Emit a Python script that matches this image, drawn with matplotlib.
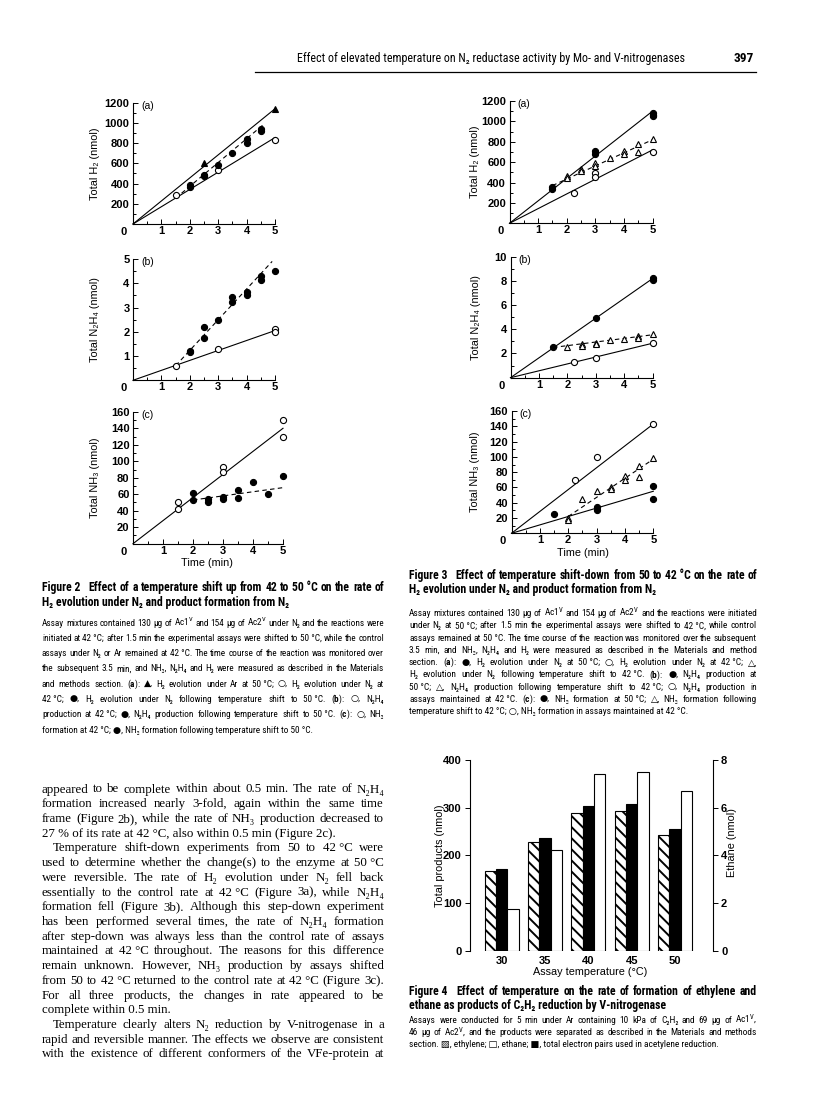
import matplotlib
matplotlib.use('Agg')
import matplotlib.pyplot as plt
from matplotlib import font_manager
from matplotlib.lines import Line2D
import numpy as np

W, H = 816, 1099

# ---------------- data ----------------
# Figure 2 (a): H2
f2a_ar_x = [2.5, 5]
f2a_ar_y = [600, 1140]
f2a_42_x = [1.5, 3, 5]
f2a_42_y = [290, 530, 830]
f2a_shift_x = [2, 2, 2.5, 2.5, 3, 3.5, 4, 4, 4.5, 4.5]
f2a_shift_y = [390, 370, 480, 470, 580, 700, 840, 800, 940, 920]
f2a_fit_ar = ([0, 5], [0, 1140])
f2a_fit_42 = ([0, 5], [0, 855])
f2a_fit_shift = ([1.5, 4.6], [255, 985])

# Figure 2 (b): N2H4
f2b_42_x = [1.5, 3, 5, 5]
f2b_42_y = [0.6, 1.3, 2.1, 1.98]
f2b_shift_x = [2, 2, 2.5, 2.5, 3, 3.5, 3.5, 4, 4, 4.5, 4.5, 5]
f2b_shift_y = [1.2, 1.15, 2.2, 1.75, 2.5, 3.42, 3.22, 3.62, 3.5, 4.28, 4.12, 4.5]
f2b_fit_42 = ([0, 5], [0, 2.05])
f2b_fit_shift = ([1.5, 4.9], [0.6, 4.9])

# Figure 2 (c): NH3
f2c_42_x = [1.5, 1.5, 3, 3, 5, 5]
f2c_42_y = [50, 42, 93, 87, 150, 130]
f2c_shift_x = [2, 2, 2.5, 2.5, 3, 3, 3.5, 3.5, 4, 4.5, 5]
f2c_shift_y = [62, 53, 54, 51, 57, 54, 65, 55, 75, 60, 82]
f2c_fit_42 = ([0, 5], [0, 140])
f2c_fit_shift = ([2, 5], [53, 68])

# Figure 3 (a): H2
f3a_50_x = [1.5, 1.5, 3, 3, 5, 5, 5]
f3a_50_y = [360, 340, 710, 680, 1080, 1060, 1050]
f3a_42_x = [2.25, 3, 3, 5]
f3a_42_y = [300, 490, 450, 700]
f3a_shift_x = [2, 2, 2.5, 2.5, 3, 3, 3.5, 4, 4, 4.5, 4.5, 5]
f3a_shift_y = [465, 440, 530, 510, 590, 560, 640, 710, 680, 780, 700, 830]
f3a_fit_50 = ([0, 5], [0, 1100])
f3a_fit_42 = ([0, 5], [0, 720])
f3a_fit_shift = ([1.5, 5], [370, 820])

# Figure 3 (b): N2H4
f3b_50_x = [1.5, 3, 5, 5]
f3b_50_y = [2.5, 4.9, 8.25, 8.05]
f3b_42_x = [2.25, 3, 5]
f3b_42_y = [1.3, 1.65, 2.85]
f3b_shift_x = [2, 2.5, 2.5, 3, 3, 3.5, 4, 4.5, 4.5, 5]
f3b_shift_y = [2.55, 2.75, 2.6, 2.9, 2.75, 3.1, 3.2, 3.45, 3.3, 3.6]
f3b_fit_50 = ([0, 5], [0, 8.2])
f3b_fit_42 = ([0, 5], [0, 2.85])
f3b_fit_shift = ([1.5, 5], [2.5, 3.55])

# Figure 3 (c): NH3
f3c_42_x = [2.25, 3, 5]
f3c_42_y = [70, 100, 143]
f3c_shift_x = [2, 2, 2.5, 3, 3.5, 3.5, 4, 4, 4.5, 4.5, 5]
f3c_shift_y = [20, 17, 45, 55, 60, 58, 75, 70, 88, 74, 98]
f3c_50_x = [1.5, 3, 3, 5, 5]
f3c_50_y = [25, 34, 31, 62, 45]
f3c_fit_42 = ([0, 5], [0, 143])
f3c_fit_50 = ([0, 5], [0, 55])
f3c_fit_shift = ([2, 5], [22, 97])

# Figure 4
temps = ['30', '35', '40', '45', '50']
ethylene = [167, 227, 289, 293, 242]
electron_pairs = [171, 236, 304, 307, 256]
ethane = [1.75, 4.22, 7.41, 7.48, 6.71]

# ---------------- page text ----------------
header = "Effect of elevated temperature on N₂ reductase activity by Mo- and V-nitrogenases"
page_no = "397"

A, B, C = r"($\mathbf{a}$):", r"($\mathbf{b}$):", r"($\mathbf{c}$):"
SUPV = r"$^{\mathrm{V}}$"

cap2_title = ["Figure\u00a02\u00a0\u00a0 Effect of a temperature shift up from 42 to 50\u00a0°C on the rate of",
              "H₂ evolution under N₂ and product formation from N₂"]
cap2 = [
    f"Assay mixtures contained 130 μg of Ac1{SUPV} and 154 μg of Ac2{SUPV} under N₂ and the reactions were",
    "initiated at 42\u00a0°C; after 1.5 min the experimental assays were shifted to 50\u00a0°C, while the control",
    "assays under N₂ or Ar remained at 42\u00a0°C. The time course of the reaction was monitored over",
    "the subsequent 3.5 min, and NH₃, N₂H₄ and H₂ were measured as described in the Materials",
    f"and methods section. {A} ▲, H₂ evolution under Ar at 50\u00a0°C; ○, H₂ evolution under N₂ at",
    f"42\u00a0°C; ●, H₂ evolution under N₂ following temperature shift to 50\u00a0°C. {B} ○, N₂H₄",
    f"production at 42\u00a0°C; ●, N₂H₄ production following temperature shift to 50\u00a0°C. {C} ○, NH₃",
    "formation at 42\u00a0°C; ●, NH₃ formation following temperature shift to 50\u00a0°C.",
]

cap3_title = ["Figure\u00a03\u00a0\u00a0 Effect of temperature shift-down from 50 to 42\u00a0°C on the rate of",
              "H₂ evolution under N₂ and product formation from N₂"]
cap3 = [
    f"Assay mixtures contained 130 μg of Ac1{SUPV} and 154 μg of Ac2{SUPV} and the reactions were initiated",
    "under N₂ at 50\u00a0°C; after 1.5 min the experimental assays were shifted to 42\u00a0°C, while control",
    "assays remained at 50\u00a0°C. The time course of the reaction was monitored over the subsequent",
    "3.5 min, and NH₃, N₂H₄ and H₂ were measured as described in the Materials and method",
    f"section. {A} ●, H₂ evolution under N₂ at 50\u00a0°C; ○, H₂ evolution under N₂ at 42\u00a0°C; △,",
    f"H₂ evolution under N₂ following temperature shift to 42\u00a0°C. {B} ●, N₂H₄ production at",
    "50\u00a0°C; △, N₂H₄ production following temperature shift to 42\u00a0°C; ○, N₂H₄ production in",
    f"assays maintained at 42\u00a0°C. {C} ●, NH₃ formation at 50\u00a0°C; △, NH₃ formation following",
    "temperature shift to 42\u00a0°C; ○, NH₃ formation in assays maintained at 42\u00a0°C.",
]

cap4_title = ["Figure\u00a04\u00a0\u00a0 Effect of temperature on the rate of formation of ethylene and",
              "ethane as products of C₂H₂ reduction by V-nitrogenase"]
cap4 = [
    f"Assays were conducted for 5 min under Ar containing 10 kPa of C₂H₂ and 69 μg of Ac1{SUPV},",
    f"46 μg of Ac2{SUPV}, and the products were separated as described in the Materials and methods",
    "section. ▨, ethylene; □, ethane; ■, total electron pairs used in acetylene reduction.",
]

# (text, indented, justified)
body = [
    ("appeared to be complete within about 0.5 min. The rate of N₂H₄", 0, True),
    ("formation increased nearly 3-fold, again within the same time", 0, True),
    ("frame (Figure 2b), while the rate of NH₃ production decreased to", 0, True),
    ("27\u00a0% of its rate at 42\u00a0°C, also within 0.5 min (Figure 2c).", 0, False),
    ("Temperature shift-down experiments from 50 to 42\u00a0°C were", 1, True),
    ("used to determine whether the change(s) to the enzyme at 50\u00a0°C", 0, True),
    ("were reversible. The rate of H₂ evolution under N₂ fell back", 0, True),
    ("essentially to the control rate at 42\u00a0°C (Figure 3a), while N₂H₄", 0, True),
    ("formation fell (Figure 3b). Although this step-down experiment", 0, True),
    ("has been performed several times, the rate of N₂H₄ formation", 0, True),
    ("after step-down was always less than the control rate of assays", 0, True),
    ("maintained at 42\u00a0°C throughout. The reasons for this difference", 0, True),
    ("remain unknown. However, NH₃ production by assays shifted", 0, True),
    ("from 50 to 42\u00a0°C returned to the control rate at 42\u00a0°C (Figure 3c).", 0, True),
    ("For all three products, the changes in rate appeared to be", 0, True),
    ("complete within 0.5 min.", 0, False),
    ("Temperature clearly alters N₂ reduction by V-nitrogenase in a", 1, True),
    ("rapid and reversible manner. The effects we observe are consistent", 0, True),
    ("with the existence of different conformers of the VFe-protein at", 0, True),
]

# ---------------- fonts ----------------
# captions were set in a condensed sans; use one if the machine has it
ttf = font_manager.fontManager.ttflist
names = {f.name for f in ttf}
cap_kw = {}
CAPNAME = 'Liberation Sans'
for want in ('Liberation Sans Narrow', 'Roboto Condensed', 'DejaVu Sans Condensed',
             'Noto Sans Condensed', 'Open Sans Condensed'):
    if want in names:
        CAPNAME = want
        break
else:
    for fam in ('DejaVu Sans', 'Noto Sans', 'Roboto', 'Open Sans'):
        if any(f.name == fam and 'condensed' in str(f.stretch) for f in ttf):
            CAPNAME = fam
            cap_kw = {'stretch': 'condensed'}
            break
CAP = [CAPNAME, 'DejaVu Sans']
AXF = ['Liberation Sans', 'DejaVu Sans']
SERIF = ['Liberation Serif', 'DejaVu Serif']
narrow = ':condensed' if cap_kw else ''

plt.rcParams['font.family'] = AXF
plt.rcParams['mathtext.fontset'] = 'custom'
plt.rcParams['mathtext.rm'] = CAPNAME + narrow
plt.rcParams['mathtext.bf'] = CAPNAME + ':bold' + narrow
plt.rcParams['hatch.linewidth'] = 1.4

fig = plt.figure(figsize=(W / 100, H / 100), dpi=100)
renderer = fig.canvas.get_renderer()


def add_ax(x0, y0, x1, y1):
    return fig.add_axes([x0 / W, 1 - y1 / H, (x1 - x0) / W, (y1 - y0) / H])


def measure(s, **kw):
    t = fig.text(0, 0, s, **kw)
    w = t.get_window_extent(renderer=renderer).width
    t.remove()
    return w


def fit_size(items, **kw):
    """font size that makes the widest line fill its width"""
    trial = 10
    return trial * min(wd / measure(s, size=trial, **kw) for s, wd in items)


def put_line(x0, x1, yb, s, justify, **kw):
    toks = [t for t in s.split(' ') if t]
    if not justify or len(toks) < 2:
        fig.text(x0 / W, 1 - yb / H, ' '.join(toks), va='baseline', **kw)
        return
    ws = [measure(t, **kw) for t in toks]
    gap = (x1 - x0 - sum(ws)) / (len(toks) - 1)
    x = x0
    for t, w in zip(toks, ws):
        fig.text(x / W, 1 - yb / H, t, va='baseline', **kw)
        x += w + gap


# ---------------- header ----------------
hs = fit_size([(header, 386)], family=CAP, **cap_kw)
fig.text(297 / W, 1 - 62 / H, header, size=hs, family=CAP, va='baseline', **cap_kw)
fig.text(754 / W, 1 - 62 / H, page_no, size=hs * 1.1, family=CAP, weight='bold',
         ha='right', va='baseline', **cap_kw)
fig.add_artist(Line2D([255 / W, 756 / W], [1 - 72 / H] * 2, transform=fig.transFigure,
                      color='black', lw=0.9))


# ---------------- time-course panels ----------------
def panel(box, ymax, ymajor, yminor, tag, ylabel, ylab_x):
    x0, y0, x1, y1 = box
    ax = add_ax(x0, y0, x1, y1)
    ax.set_xlim(0, 5)
    ax.set_ylim(0, ymax)
    ax.patch.set_visible(False)
    for s in ('top', 'right'):
        ax.spines[s].set_visible(False)
    for s in ('left', 'bottom'):
        ax.spines[s].set_linewidth(0.8)
    ax.set_xticks([1, 2, 3, 4, 5])
    ax.set_xticks(np.arange(0.5, 5.0, 1.0), minor=True)
    ax.set_yticks(np.arange(ymajor, ymax + ymajor / 2, ymajor))
    ax.set_yticks(np.arange(yminor, ymax, yminor), minor=True)
    ax.tick_params(which='both', direction='in', width=0.7, labelsize=8, pad=2.5)
    ax.tick_params(axis='x', pad=1.5)
    ax.tick_params(which='major', length=3.5)
    ax.tick_params(which='minor', length=2)
    for lab in ax.get_xticklabels() + ax.get_yticklabels():
        lab.set_fontweight('bold')
    ax.annotate('0', (0, 0), xycoords='axes fraction', xytext=(-9, -8),
                textcoords='offset pixels', ha='center', va='center',
                fontsize=8, fontweight='bold')
    ax.annotate(tag, (0, 1), xycoords='axes fraction', xytext=(8, -3),
                textcoords='offset pixels', ha='left', va='center', fontsize=7.5)
    fig.text(ylab_x / W, 1 - (y0 + y1) / 2 / H, ylabel, rotation=90,
             ha='center', va='center', fontsize=7.8)
    return ax


def solid(ax, xy):
    ax.plot(xy[0], xy[1], color='black', lw=0.8, clip_on=False)


def dashed(ax, xy):
    ax.plot(xy[0], xy[1], color='black', lw=0.8, dashes=(4, 3), clip_on=False)


def pts(ax, x, y, marker, filled, ms=4.4):
    ax.plot(x, y, linestyle='none', marker=marker, ms=ms,
            mfc='black' if filled else 'white', mec='black', mew=0.8,
            clip_on=False, zorder=3)


# Figure 2
ax = panel((133, 102.7, 275, 224), 1200, 200, 100, '(a)', 'Total H₂ (nmol)', 95)
solid(ax, f2a_fit_ar); solid(ax, f2a_fit_42); dashed(ax, f2a_fit_shift)
pts(ax, f2a_ar_x, f2a_ar_y, '^', True, 4.8)
pts(ax, f2a_42_x, f2a_42_y, 'o', False)
pts(ax, f2a_shift_x, f2a_shift_y, 'o', True)

ax = panel((133, 259, 275, 380.3), 5, 1, 0.5, '(b)', 'Total N₂H₄ (nmol)', 95)
solid(ax, f2b_fit_42); dashed(ax, f2b_fit_shift)
pts(ax, f2b_42_x, f2b_42_y, 'o', False)
pts(ax, f2b_shift_x, f2b_shift_y, 'o', True)

ax = panel((133, 411.8, 283, 543.7), 160, 20, 10, '(c)', 'Total NH₃ (nmol)', 95)
solid(ax, f2c_fit_42); dashed(ax, f2c_fit_shift)
pts(ax, f2c_42_x, f2c_42_y, 'o', False)
pts(ax, f2c_shift_x, f2c_shift_y, 'o', True)
fig.text(207 / W, 1 - 563 / H, 'Time (min)', ha='center', va='center', fontsize=7.8)

# Figure 3
ax = panel((509.5, 101, 652.5, 223.3), 1200, 200, 100, '(a)', 'Total H₂ (nmol)', 475)
solid(ax, f3a_fit_50); solid(ax, f3a_fit_42); dashed(ax, f3a_fit_shift)
pts(ax, f3a_50_x, f3a_50_y, 'o', True)
pts(ax, f3a_42_x, f3a_42_y, 'o', False)
pts(ax, f3a_shift_x, f3a_shift_y, '^', False, 4.8)

ax = panel((510.5, 256.7, 652.7, 377.7), 10, 2, 1, '(b)', 'Total N₂H₄ (nmol)', 476)
solid(ax, f3b_fit_50); solid(ax, f3b_fit_42); dashed(ax, f3b_fit_shift)
pts(ax, f3b_50_x, f3b_50_y, 'o', True)
pts(ax, f3b_42_x, f3b_42_y, 'o', False)
pts(ax, f3b_shift_x, f3b_shift_y, '^', False, 4.8)

ax = panel((511.5, 411, 653.3, 533.3), 160, 20, 10, '(c)', 'Total NH₃ (nmol)', 475)
solid(ax, f3c_fit_42); solid(ax, f3c_fit_50); dashed(ax, f3c_fit_shift)
pts(ax, f3c_42_x, f3c_42_y, 'o', False)
pts(ax, f3c_shift_x, f3c_shift_y, '^', False, 4.8)
pts(ax, f3c_50_x, f3c_50_y, 'o', True)
fig.text(583 / W, 1 - 553 / H, 'Time (min)', ha='center', va='center', fontsize=7.8)

# ---------------- Figure 4 bars ----------------
ax4 = add_ax(470, 760, 712.7, 950.7)
ax4r = ax4.twinx()
pos = np.arange(len(temps))
bw = 0.262
ax4.bar(pos - bw, ethylene, bw, facecolor='white', edgecolor='black', hatch='\\\\\\', lw=0.8)
ax4.bar(pos, electron_pairs, bw, color='black', edgecolor='black', lw=0.8)
ax4r.bar(pos + bw, ethane, bw, facecolor='white', edgecolor='black', lw=0.8)
ax4.set_xlim(-0.73, 4.87)
ax4.set_ylim(0, 400)
ax4r.set_ylim(0, 8)
for a in (ax4, ax4r):
    a.patch.set_visible(False)
    for s in ('top', 'bottom'):
        a.spines[s].set_visible(False)
ax4.spines['right'].set_visible(False)
ax4r.spines['left'].set_visible(False)
ax4.spines['left'].set_linewidth(0.8)
ax4r.spines['right'].set_linewidth(0.8)
ax4.set_yticks([0, 100, 200, 300, 400])
ax4r.set_yticks([0, 2, 4, 6, 8])
ax4.set_xticks(pos, temps)
ax4.tick_params(axis='x', length=0, pad=3.5, labelsize=8)
ax4.tick_params(axis='y', direction='out', length=3.5, width=0.7, labelsize=8, pad=2.5)
ax4r.tick_params(axis='y', direction='out', length=3.5, width=0.7, labelsize=8, pad=2.5)
for lab in ax4.get_xticklabels() + ax4.get_yticklabels() + ax4r.get_yticklabels():
    lab.set_fontweight('bold')
fig.text(440 / W, 1 - 856 / H, 'Total products (nmol)', rotation=90, ha='center',
         va='center', fontsize=7.8)
fig.text(732 / W, 1 - 843 / H, 'Ethane (nmol)', rotation=90, ha='center',
         va='center', fontsize=7.8)
fig.text(590 / W, 1 - 972 / H, 'Assay temperature (°C)', ha='center', va='center',
         fontsize=7.8)

# ---------------- captions ----------------
L0, L1 = 42, 384
R0, R1 = 409, 757
ck = dict(family=CAP, **cap_kw)

# figure 2 caption (left column)
ts = fit_size([(cap2_title[0], L1 - L0)], weight='bold', **ck)
put_line(L0, L1, 591, cap2_title[0], True, size=ts, weight='bold', **ck)
put_line(L0, L1, 606, cap2_title[1], False, size=ts, weight='bold', **ck)
cs = fit_size([(s, L1 - L0) for s in cap2[:-1]], **ck)
for i, s in enumerate(cap2):
    put_line(L0, L1, 625.5 + 15.3 * i, s, i < len(cap2) - 1, size=cs, **ck)

# figure 3 caption (right column)
ts = fit_size([(cap3_title[0], R1 - R0)], weight='bold', **ck)
put_line(R0, R1, 579, cap3_title[0], True, size=ts, weight='bold', **ck)
put_line(R0, R1, 592.5, cap3_title[1], False, size=ts, weight='bold', **ck)
cs = fit_size([(s, R1 - R0) for s in cap3[:-1]], **ck)
for i, s in enumerate(cap3):
    put_line(R0, R1, 616.2 + 12.25 * i, s, i < len(cap3) - 1, size=cs, **ck)

# figure 4 caption
put_line(R0, R1, 995, cap4_title[0], True, size=ts, weight='bold', **ck)
put_line(R0, R1, 1009, cap4_title[1], False, size=ts, weight='bold', **ck)
for i, s in enumerate(cap4):
    put_line(R0, R1, 1023 + 12.2 * i, s, i < len(cap4) - 1, size=cs, **ck)

# ---------------- body text ----------------
IND = 11
bs = fit_size([(s, L1 - L0 - IND * ind) for s, ind, j in body if j], family=SERIF)
for i, (s, ind, j) in enumerate(body):
    put_line(L0 + IND * ind, L1, 792.5 + 14.72 * i, s, j, size=bs, family=SERIF)

fig.savefig('out.png', dpi=100)
